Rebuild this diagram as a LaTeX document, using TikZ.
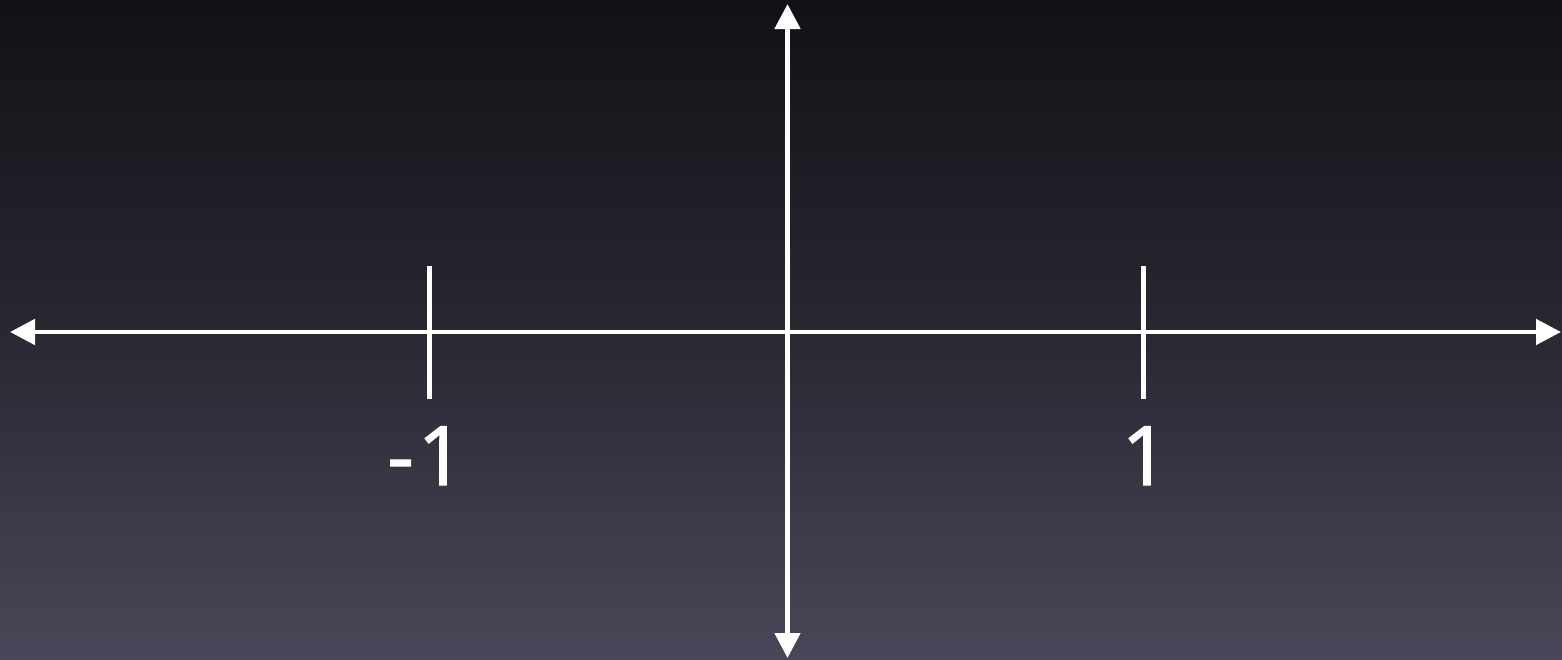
\documentclass[tikz,border=0pt]{standalone}
\usepackage{fontspec}
\newfontfamily\labfont[FakeBold=1.6]{Open Sans}
\usetikzlibrary{arrows.meta}
\definecolor{bgtop}{RGB}{17,17,22}
\definecolor{bgmid}{RGB}{40,40,50}
\definecolor{bgbot}{RGB}{71,71,89}
\tikzset{
  axis/.style={draw=white, line width=2.4pt, {Triangle[length=12.5pt,width=12.5pt]}-{Triangle[length=12.5pt,width=12.5pt]}},
  tick/.style={draw=white, line width=2.4pt},
  lab/.style={text=white, font=\labfont\fontsize{41}{41}\selectfont, inner sep=0pt, anchor=base}
}
\begin{document}
\begin{tikzpicture}[x=0.5pt,y=-0.5pt]
\useasboundingbox (0,0) rectangle (1562,659);
\shade[top color=bgtop, bottom color=bgbot, middle color=bgmid] (0,0) rectangle (1562,659);
\coordinate (xl) at (10,332);
\coordinate (xr) at (1561,332);
\coordinate (yt) at (787.5,4);
\coordinate (yb) at (787.5,658);
\coordinate (tlt) at (429.5,266);
\coordinate (tlb) at (429.5,399);
\coordinate (trt) at (1143.5,266);
\coordinate (trb) at (1143.5,399);
\draw[axis] (xl) -- (xr);
\draw[axis] (yb) -- (yt);
\draw[tick] (tlt) -- (tlb);
\draw[tick] (trt) -- (trb);
\node[lab] (lm) at (426,485) {-\kern2pt1};
\node[lab] (lp) at (1145,485) {1};
\end{tikzpicture}
\end{document}
